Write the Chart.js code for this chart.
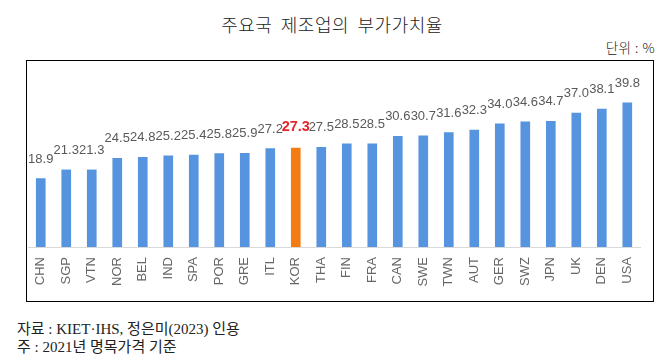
<!DOCTYPE html>
<html>
<head>
<meta charset="utf-8">
<script src="https://cdn.jsdelivr.net/npm/chart.js@4.4.1/dist/chart.umd.min.js"></script>
<style>
html,body{margin:0;padding:0;background:#fff;width:671px;height:360px;overflow:hidden;}
#title{position:absolute;left:0;width:664px;top:13px;text-align:center;font:300 18px/22px "Noto Sans CJK KR",sans-serif;letter-spacing:0.5px;word-spacing:4px;color:#222;white-space:nowrap;}
#unit{position:absolute;right:16px;top:38px;font:300 13.5px/18px "Noto Sans CJK KR",sans-serif;letter-spacing:0.5px;color:#222;white-space:nowrap;}
#box{position:absolute;left:26px;top:60px;width:626px;height:240px;border:1px solid #000;}
#box canvas{position:absolute;left:0;top:0;}
#notes{position:absolute;left:17px;top:320px;font:15px/18px "Liberation Serif","Noto Sans CJK KR",serif;color:#222;white-space:nowrap;}
</style>
</head>
<body>
<div id="title">주요국 제조업의 부가가치율</div>
<div id="unit">단위 : %</div>
<div id="box"><canvas id="c" width="626" height="240"></canvas></div>
<div id="notes">자료 : KIET·IHS, 정은미(2023) 인용<br>주 : 2021년 명목가격 기준</div>
<script>
const categories = ["CHN","SGP","VTN","NOR","BEL","IND","SPA","POR","GRE","ITL","KOR","THA","FIN","FRA","CAN","SWE","TWN","AUT","GER","SWZ","JPN","UK","DEN","USA"];
const values = [18.9,21.3,21.3,24.5,24.8,25.2,25.4,25.8,25.9,27.2,27.3,27.5,28.5,28.5,30.6,30.7,31.6,32.3,34.0,34.6,34.7,37.0,38.1,39.8];
const highlight = "KOR";

const BLUE = "#5694df", ORANGE = "#f47c14";
const barColors = categories.map(c => c === highlight ? ORANGE : BLUE);
const NARROW = '"Liberation Sans Narrow","Liberation Sans",Arial,sans-serif';

const valueLabels = {
  id: 'valueLabels',
  afterDatasetsDraw(chart) {
    const ctx = chart.ctx;
    const meta = chart.getDatasetMeta(0);
    meta.data.forEach((bar, i) => {
      const hl = categories[i] === highlight;
      ctx.save();
      ctx.font = hl ? 'bold 14.5px "Liberation Sans",Arial,sans-serif' : '13px ' + NARROW;
      ctx.fillStyle = hl ? '#e8262b' : '#595959';
      ctx.textAlign = 'center';
      ctx.textBaseline = 'alphabetic';
      ctx.fillText(values[i].toFixed(1), bar.x, bar.y - (hl ? 17 : 16));
      ctx.restore();
    });
  }
};

new Chart(document.getElementById('c'), {
  type: 'bar',
  data: {
    labels: categories,
    datasets: [{
      data: values,
      backgroundColor: barColors,
      borderWidth: 0,
      barThickness: 9
    }]
  },
  options: {
    responsive: false,
    devicePixelRatio: 1,
    animation: false,
    events: [],
    layout: { padding: { left: 1, right: 4.5, top: 5, bottom: 0 } },
    plugins: { legend: { display: false }, tooltip: { enabled: false } },
    scales: {
      x: {
        grid: { display: false, drawTicks: false },
        border: { display: true, color: '#d9d9d9', width: 1 },
        ticks: {
          autoSkip: false,
          minRotation: 90,
          maxRotation: 90,
          padding: 10,
          color: '#666666',
          font: { family: NARROW, size: 13 }
        },
        afterFit: s => { s.height = 54; }
      },
      y: {
        display: false,
        min: 0,
        max: 50
      }
    }
  },
  plugins: [valueLabels]
});
</script>
</body>
</html>
